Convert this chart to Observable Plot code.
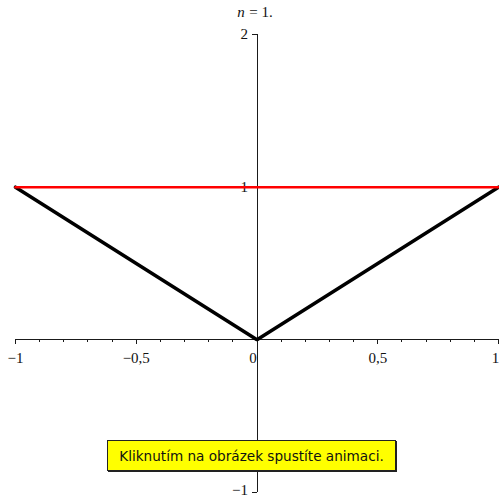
<!DOCTYPE html>
<html>
<head>
<meta charset="utf-8">
<script src="https://cdn.jsdelivr.net/npm/d3@7"></script>
<script src="https://cdn.jsdelivr.net/npm/@observablehq/plot@0.6"></script>
<style>
  html, body { margin: 0; padding: 0; background: #fff; }
  #wrap { position: relative; width: 499px; height: 498px; }
  #note {
    position: absolute; left: 107px; top: 440px; width: 289px; height: 31px;
    background: #ffff00; border: 1px solid #222; box-shadow: 1px 1px 0 #222;
    font-family: "DejaVu Sans", sans-serif; font-size: 13.6px; color: #111;
    display: flex; align-items: center; justify-content: center; box-sizing: border-box;
  }
</style>
</head>
<body>
<div id="wrap"></div>
<script>
// Function |x| on [-1, 1] and the constant line y = 1 for n = 1
const xsAbs = [-1, 0, 1];
const ysAbs = [1, 0, 1];
const xsConst = [-1, 1];
const ysConst = [1, 1];

// Axis ticks and labels
const xMinorTicks = d3.range(-10, 11).filter(i => i % 5 !== 0).map(i => i / 10);
const xMajorTicks = [-1, -0.5, 0.5, 1];
const xTickLabels = [
  {x: -1, label: "\u22121"},
  {x: -0.5, label: "\u22120,5"},
  {x: 0.5, label: "0,5"}
];
const xOriginLabel = [{x: 0, label: "0"}];
const xEndLabel = [{x: 1, label: "1"}];
const yMajorTicks = [-1, 1, 2];
const yTickLabels = [
  {y: 1, label: "1"},
  {y: 2, label: "2"}
];
const yBottomLabel = [{y: -1, label: "\u22121"}];

const serif = "'Liberation Serif', 'DejaVu Serif', serif";
const labelStyle = {fontFamily: serif, fontSize: 15, fill: "#111"};
const axisStyle = {stroke: "#1a1a1a", strokeWidth: 1, shapeRendering: "crispEdges"};

const chart = Plot.plot({
  width: 499,
  height: 498,
  marginLeft: 15,
  marginRight: 1,
  marginTop: 34,
  marginBottom: 6,
  x: {domain: [-1, 1], axis: null},
  y: {domain: [-1, 2], axis: null},
  marks: [
    // axes through the origin
    Plot.ruleY([0], {x1: -1, x2: 1, ...axisStyle}),
    Plot.ruleX([0], {y1: -1, y2: 2, ...axisStyle}),
    // x ticks (pointing down)
    Plot.ruleX(xMinorTicks, {x: d => d, y1: 0, y2: 0, insetBottom: -3, ...axisStyle}),
    Plot.ruleX(xMajorTicks, {x: d => d, y1: 0, y2: 0, insetBottom: -5, ...axisStyle}),
    // y ticks (pointing left)
    Plot.ruleY(yMajorTicks, {y: d => d, x1: 0, x2: 0, insetLeft: -5, ...axisStyle}),
    // tick labels
    Plot.text(xTickLabels, {x: "x", y: 0, text: "label", dy: 18, ...labelStyle}),
    Plot.text(xOriginLabel, {x: "x", y: 0, text: "label", dy: 18, dx: -4, ...labelStyle}),
    Plot.text(xEndLabel, {x: "x", y: 0, text: "label", dy: 18, dx: -3, ...labelStyle}),
    Plot.text(yTickLabels, {x: 0, y: "y", text: "label", dx: -9, textAnchor: "end", ...labelStyle}),
    Plot.text(yBottomLabel, {x: 0, y: "y", text: "label", dx: -9, dy: -2, textAnchor: "end", ...labelStyle}),
    // curves
    Plot.line(xsAbs.map((x, i) => ({x, y: ysAbs[i]})), {x: "x", y: "y", stroke: "#000", strokeWidth: 3.5, strokeLinejoin: "miter"}),
    Plot.line(xsConst.map((x, i) => ({x, y: ysConst[i]})), {x: "x", y: "y", stroke: "#ff0000", strokeWidth: 2.5}),
    // title "n = 1."
    Plot.text(["n"], {x: 0, y: 2, dx: -16, dy: -22, text: d => d, fontStyle: "italic", ...labelStyle}),
    Plot.text(["= 1."], {x: 0, y: 2, dx: 4, dy: -22, text: d => d, ...labelStyle})
  ]
});

const wrap = document.getElementById("wrap");
wrap.appendChild(chart);
const note = document.createElement("div");
note.id = "note";
note.textContent = "Kliknutím na obrázek spustíte animaci.";
wrap.appendChild(note);
</script>
</body>
</html>
